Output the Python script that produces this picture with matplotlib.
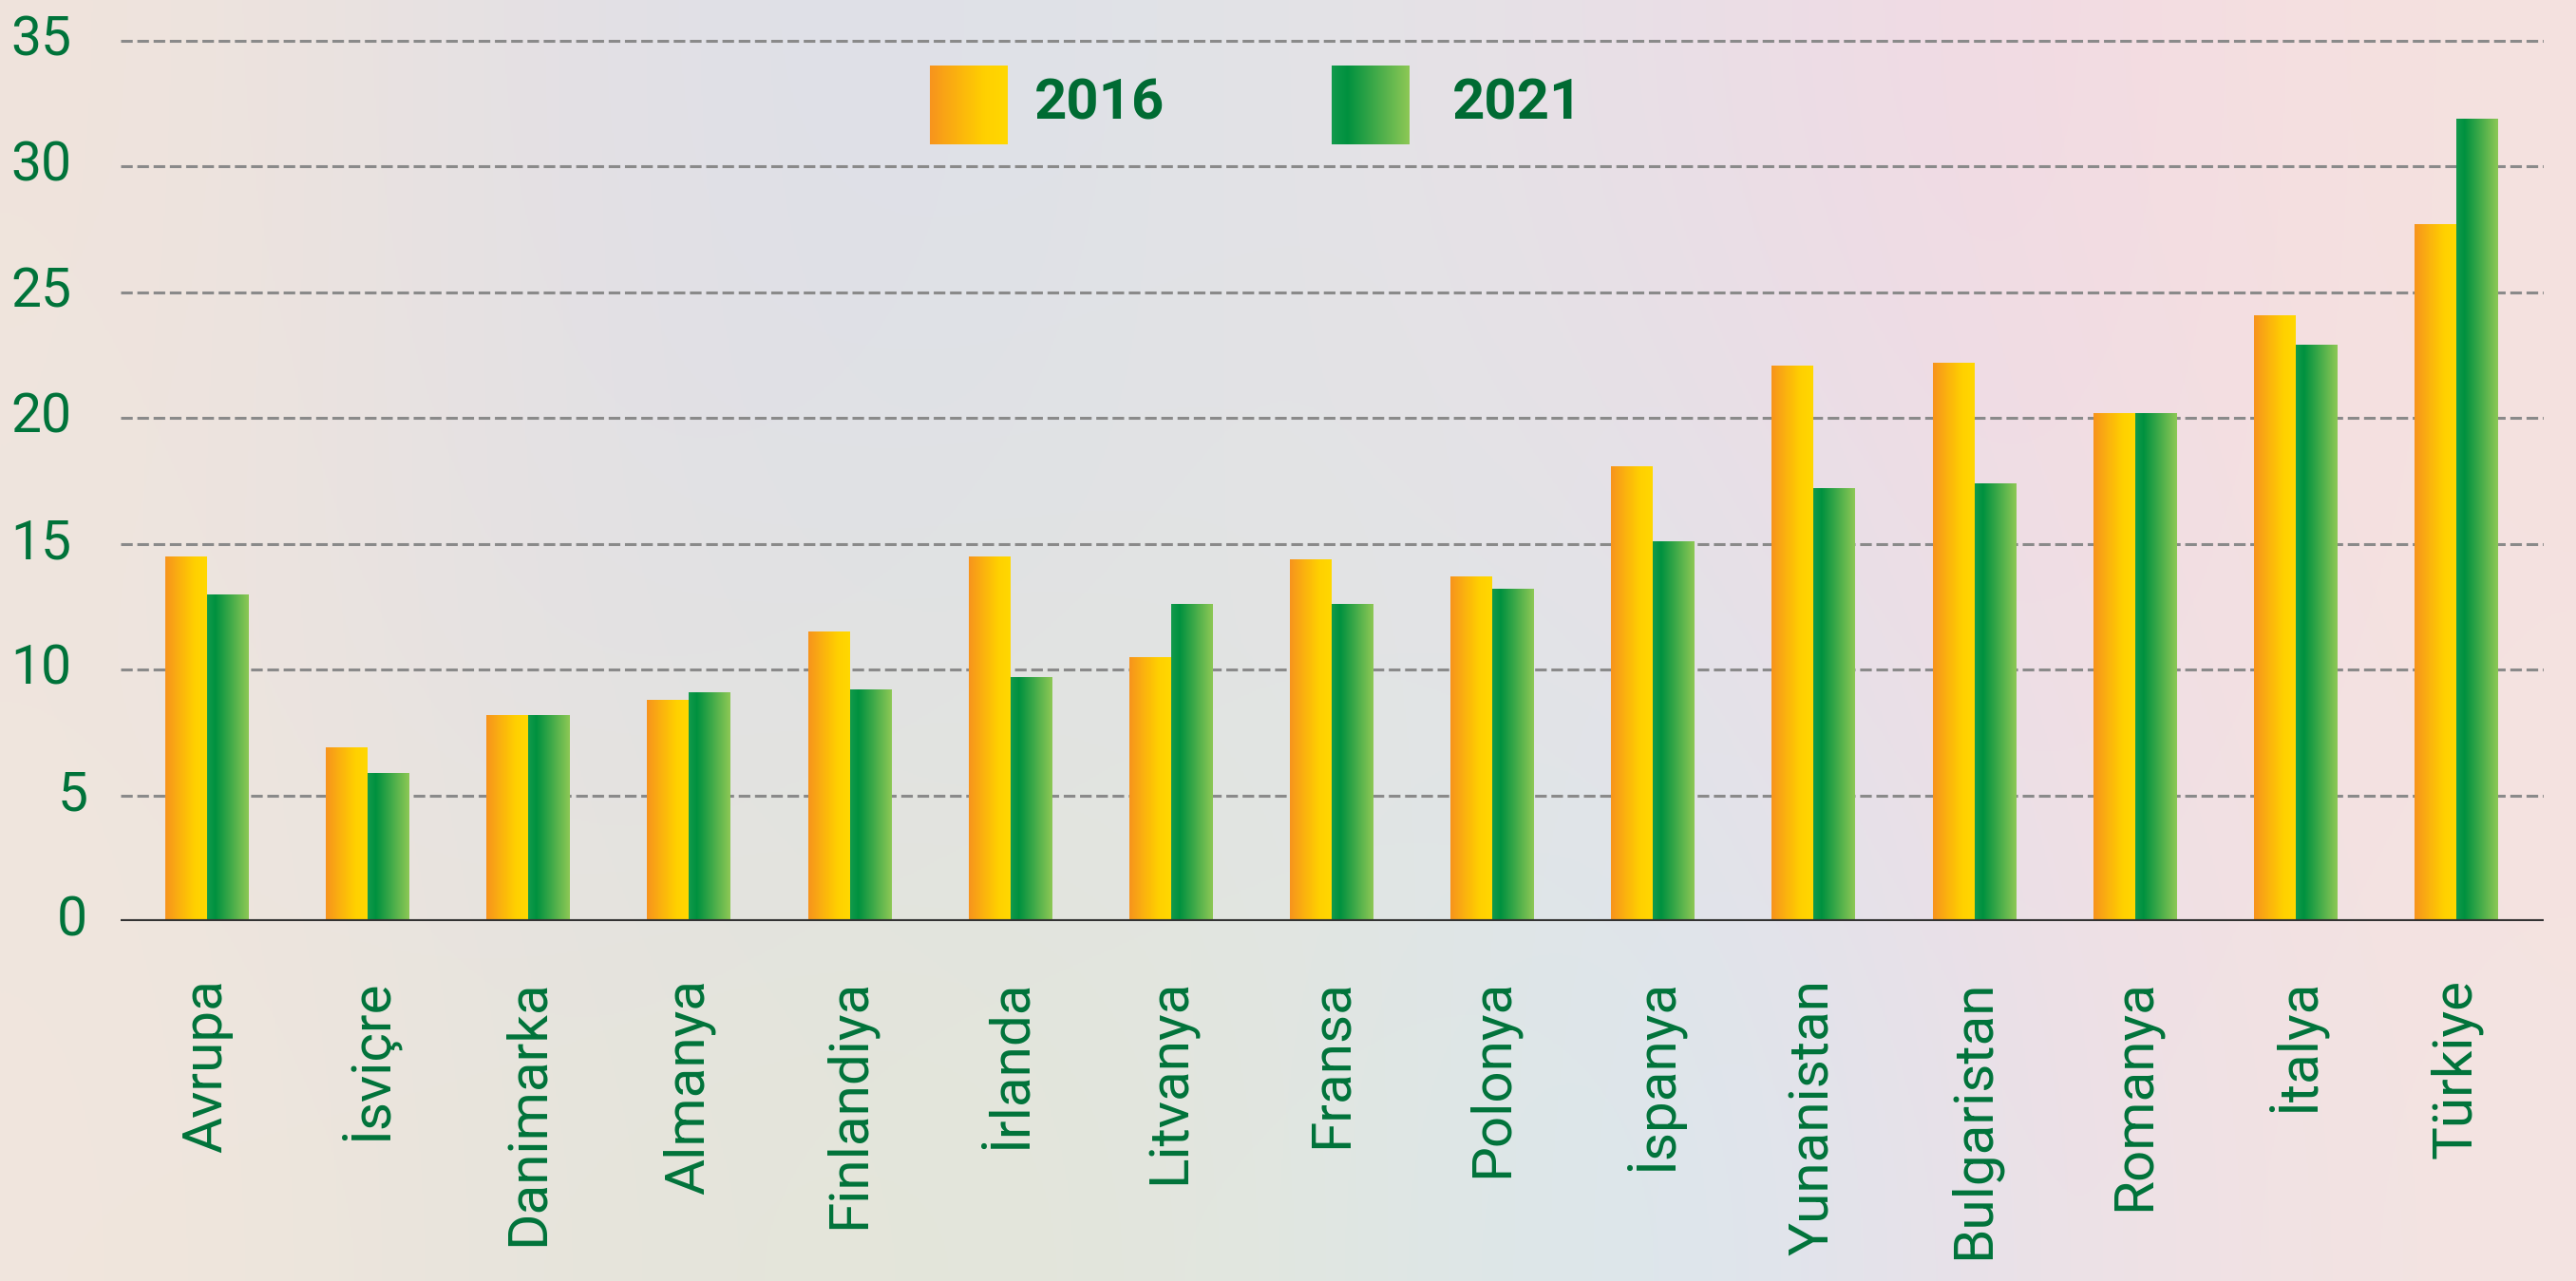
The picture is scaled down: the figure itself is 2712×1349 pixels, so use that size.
import numpy as np
import matplotlib
matplotlib.use("Agg")
import matplotlib.pyplot as plt
from matplotlib.colors import LinearSegmentedColormap, to_rgb

# values
countries = ["Avrupa", "İsviçre", "Danimarka", "Almanya", "Finlandiya", "İrlanda",
             "Litvanya", "Fransa", "Polonya", "İspanya", "Yunanistan", "Bulgaristan",
             "Romanya", "İtalya", "Türkiye"]
v2016 = [14.5, 6.9, 8.2, 8.8, 11.5, 14.5, 10.5, 14.4, 13.7, 18.1, 22.1, 22.2, 20.2, 24.1, 27.7]
v2021 = [13.0, 5.9, 8.2, 9.1, 9.2, 9.7, 12.6, 12.6, 13.2, 15.1, 17.2, 17.4, 20.2, 22.9, 31.9]
years = ["2016", "2021"]
yticks = [0, 5, 10, 15, 20, 25, 30, 35]

GREEN_TXT = "#00733a"
orange_cmap = LinearSegmentedColormap.from_list(
    "org", [(0, "#f7941d"), (0.7, "#ffd000"), (1, "#ffd800")])
green_cmap = LinearSegmentedColormap.from_list(
    "grn", [(0, "#129a4c"), (0.2, "#00913f"), (1, "#8dc855")])

plt.rcParams["font.family"] = ["Roboto", "DejaVu Sans"]

W, H = 2712, 1349
fig = plt.figure(figsize=(W / 100, H / 100), dpi=100)

# soft background gradient
bg = fig.add_axes([0, 0, 1, 1], zorder=-10)
bg_cols = [
    ["#f0e4dc", "#e3e0e5", "#dde0e9", "#e3e4e6", "#e9dfe7", "#f3d9e3", "#f5e2df"],
    ["#efe5de", "#e3e1e4", "#e0e2e3", "#e3e4e2", "#e1e3ea", "#f0dce5", "#f5e2e0"],
    ["#f1e6dd", "#e6e4dc", "#e4e6d9", "#e2e6df", "#d9e8ef", "#ecdfe8", "#f4e4e1"],
]
bg_arr = np.array([[to_rgb(c) for c in row] for row in bg_cols])
bg.imshow(bg_arr, aspect="auto", interpolation="bicubic", extent=[0, 1, 0, 1])
bg.set_axis_off()

ax = fig.add_axes([127 / W, (H - 970) / H, (2678 - 127) / W, (970 - 37.7) / H])
ax.set_facecolor("none")

x = np.arange(len(countries))
bw = 0.26
b1 = ax.bar(x - bw / 2, v2016, bw, facecolor="none", edgecolor="none", zorder=3)
b2 = ax.bar(x + bw / 2, v2021, bw, facecolor="none", edgecolor="none", zorder=3)

grad = np.linspace(0, 1, 256).reshape(1, -1)
for bars, cmap in ((b1, orange_cmap), (b2, green_cmap)):
    for r in bars:
        x0, y0, w, h = r.get_x(), r.get_y(), r.get_width(), r.get_height()
        im = ax.imshow(grad, cmap=cmap, aspect="auto", extent=[x0, x0 + w, y0, y0 + h],
                       zorder=3, interpolation="bilinear")
        im.set_clip_path(r)

ax.set_xlim(-0.538, len(countries) - 1 + 0.544)
ax.set_ylim(0, 35.2)

for t in yticks[1:]:
    ax.axhline(t, color="#8a8a8a", lw=2.2, ls=(0, (4, 1.6)), zorder=1)
ax.axhline(0, color="#333333", lw=3, zorder=4)

for s in ax.spines.values():
    s.set_visible(False)

# y labels: one-digit values sit a bit further right, as in the original
ax.set_yticks(yticks)
ax.set_yticklabels([])
ax.tick_params(axis="y", length=0)
for t in yticks:
    off = -25 if t < 10 else -37
    ax.annotate(str(t), xy=(0, t), xycoords=("axes fraction", "data"),
                xytext=(off, 0), textcoords="offset points",
                ha="right", va="center", fontsize=41, color=GREEN_TXT)

ax.set_xticks(x)
ax.set_xticklabels(countries, rotation=90, fontsize=42, color=GREEN_TXT)
ax.tick_params(axis="x", length=0, pad=44)

# legend drawn by hand so the swatches keep their gradient
for (xl, cmap, lab, xt) in ((979, orange_cmap, years[0], 1089),
                            (1402, green_cmap, years[1], 1529)):
    sw = fig.add_axes([xl / W, (H - 152) / H, 82 / W, 83 / H])
    sw.imshow(grad, cmap=cmap, aspect="auto")
    sw.set_axis_off()
    fig.text(xt / W, (H - 110) / H, lab, fontsize=43, fontweight="bold",
             color="#006b33", va="center", ha="left")

fig.savefig("out.png", dpi=100)
